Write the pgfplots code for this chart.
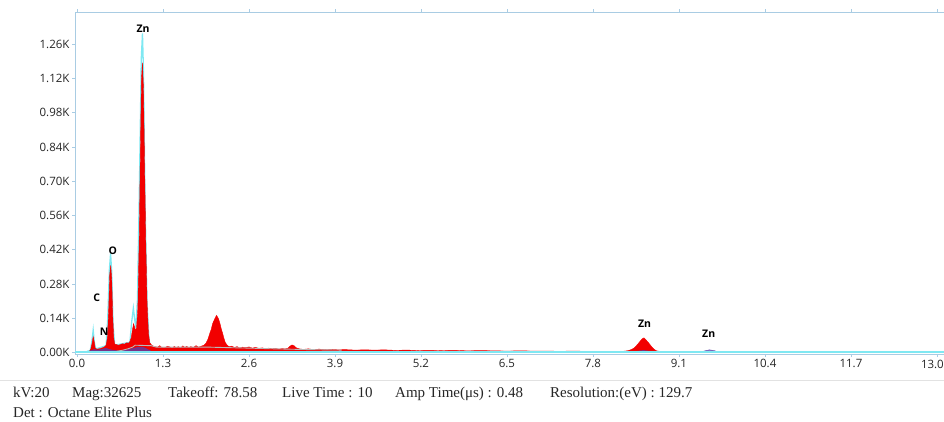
\documentclass[border=0pt]{standalone}
\usepackage{fontspec}
\setmainfont{Liberation Serif}
\newfontfamily\tickfont{Open Sans}
\newfontfamily\lblfont{Open Sans}
\usepackage{pgfplots}
\pgfplotsset{compat=1.18}
\definecolor{framec}{HTML}{A9CCE3}
\definecolor{cyanl}{HTML}{7FE8F2}
\definecolor{redf}{HTML}{F20000}
\definecolor{purp}{HTML}{5B3FA8}
\definecolor{grayl}{HTML}{B8B8B8}
\definecolor{sepc}{HTML}{E2E2E2}
\begin{document}
\begin{tikzpicture}
\path[use as bounding box] (0pt,0pt) rectangle (944pt,421pt);
\begin{axis}[
  at={(75pt,67pt)}, anchor=south west,
  width=869pt, height=341.5pt, scale only axis,
  xmin=-0.03, xmax=13.107, ymin=-6, ymax=1390,
  axis line style={framec, line width=1pt},
  tick style={framec, line width=0.8pt},
  tick align=outside, major tick length=3pt,
  xtick={0,1.3,2.6,3.9,5.2,6.5,7.8,9.1,10.4,11.7,13.0},
  xticklabels={0.0,1.3,2.6,3.9,5.2,6.5,7.8,9.1,10.4,11.7,{}},
  ytick={0,140,280,420,560,700,840,980,1120,1260},
  yticklabels={0.00K,0.14K,0.28K,0.42K,0.56K,0.70K,0.84K,0.98K,1.12K,1.26K},
  ticklabel style={font=\tickfont\fontsize{11.5}{13}\selectfont, text=black!85},
  xticklabel style={yshift=1pt},
  yticklabel style={xshift=1pt},
  clip=false,
]
% cyan outline peaks (behind red)
\addplot[cyanl, line width=1.3pt] coordinates {
(0.15,5)(0.20,8)(0.225,45)(0.245,92)(0.262,42)(0.285,15)(0.44,28)(0.465,140)
(0.49,340)(0.508,405)(0.525,330)(0.545,120)(0.57,30)(0.80,42)(0.825,120)
(0.852,182)(0.87,140)(0.89,100)(0.915,220)(0.945,700)(0.972,1200)(0.99,1305)
(1.005,1150)(1.03,600)(1.06,200)(1.09,50)(1.12,15)(1.3,8)};
% red spectrum
\addplot[draw=redf, fill=redf, line width=0.4pt] coordinates {
(0.15,0)(0.19,6)(0.21,15)(0.23,40)(0.245,65)(0.26,45)(0.275,18)(0.30,14)
(0.33,15)(0.36,17)(0.39,20)(0.42,24)(0.44,30)(0.46,60)(0.48,180)(0.495,320)
(0.51,356)(0.525,300)(0.54,150)(0.555,60)(0.57,35)(0.60,32)(0.63,30)(0.66,33)
(0.69,36)(0.72,34)(0.75,40)(0.78,38)(0.80,45)(0.82,60)(0.84,95)(0.855,118)
(0.87,105)(0.885,90)(0.90,100)(0.92,180)(0.94,450)(0.96,850)(0.975,1120)
(0.99,1185)(1.005,1080)(1.02,800)(1.04,450)(1.06,200)(1.08,80)(1.10,40)
(1.13,30)(1.17,24)(1.22,22)(1.25,28)(1.28,21)(1.33,20)(1.37,26)(1.40,23)
(1.44,18)(1.47,25)(1.50,20)(1.53,24)(1.57,19)(1.60,27)(1.63,21)(1.66,25)
(1.69,20)(1.72,24)(1.76,21)(1.80,28)(1.84,22)(1.88,26)(1.92,30)(1.95,38)
(1.98,55)(2.01,80)(2.03,95)(2.05,118)(2.07,130)(2.09,142)(2.11,152)(2.125,145)
(2.14,138)(2.16,120)(2.18,98)(2.20,80)(2.22,60)(2.24,42)(2.27,30)(2.30,24)
(2.34,26)(2.38,21)(2.42,24)(2.46,19)(2.50,22)(2.55,20)(2.60,23)(2.65,18)
(2.70,21)(2.75,17)(2.80,19)(2.85,16)(2.90,18)(2.95,15)(3.00,17)(3.05,14)
(3.10,16)(3.15,15)(3.19,18)(3.22,26)(3.25,31)(3.28,28)(3.31,20)(3.36,15)
(3.42,13)(3.50,15)(3.58,12)(3.66,14)(3.75,12)(3.85,13)(3.95,11)(4.05,12)
(4.2,10)(4.35,11)(4.5,10)(4.65,11)(4.8,9)(5.0,10)(5.15,8)(5.3,9)(5.5,8)
(5.7,9)(5.9,7)(6.1,8)(6.3,7)(6.5,6)(6.7,7)(6.9,6)(7.1,6)(7.3,5)(7.5,6)
(7.7,5)(7.9,5)(8.1,5)(8.25,5)(8.32,7)(8.38,12)(8.43,20)(8.47,32)(8.51,45)
(8.54,55)(8.57,60)(8.60,52)(8.64,40)(8.68,26)(8.72,14)(8.76,7)(8.82,4)
(9.0,3)(9.2,2)(9.5,1)(9.6,0)};
% purple background
\addplot[draw=purp, fill=purp, fill opacity=0.8, line width=0.4pt] coordinates {
(0.16,0)(0.20,7)(0.26,12)(0.32,10)(0.38,14)(0.44,17)(0.50,12)(0.56,8)
(0.62,7)(0.70,8)(0.78,12)(0.85,17)(0.92,21)(0.98,22)(1.03,18)(1.08,11)
(1.12,5)(1.16,0)};
\addplot[draw=purp, fill=purp, fill opacity=0.7, line width=0.4pt] coordinates {
(8.36,0)(8.45,5)(8.56,8)(8.68,5)(8.78,0)};
\addplot[draw=purp, fill=purp, fill opacity=0.7, line width=0.4pt] coordinates {
(9.40,0)(9.48,6)(9.56,11)(9.63,8)(9.72,0)};
% gray fit line
\addplot[grayl, line width=0.9pt] coordinates {
(0.56,3)(0.62,6)(0.70,10)(0.78,16)(0.84,22)(0.88,30)(1.12,28)(1.2,22)
(1.5,22)(2.0,22)(2.3,20)(2.6,18)(3.0,15)(3.5,12)(4.0,10)};
% cyan baseline
\addplot[cyanl, line width=2pt] coordinates {(-0.03,2)(13.107,2)};
% element labels
\node[font=\lblfont\bfseries\fontsize{10.5}{12}\selectfont] at (axis cs:1.0,1325) {Zn};
\node[font=\lblfont\bfseries\fontsize{10.5}{12}\selectfont] at (axis cs:0.54,417) {O};
\node[font=\lblfont\bfseries\fontsize{10.5}{12}\selectfont] at (axis cs:0.30,225) {C};
\node[font=\lblfont\bfseries\fontsize{10.5}{12}\selectfont] at (axis cs:0.41,86) {N};
\node[font=\lblfont\bfseries\fontsize{10.5}{12}\selectfont] at (axis cs:8.58,118) {Zn};
\node[font=\lblfont\bfseries\fontsize{10.5}{12}\selectfont] at (axis cs:9.55,78) {Zn};
\node[anchor=north east, inner sep=0pt, font=\tickfont\fontsize{11.5}{13}\selectfont, text=black!85] at ([yshift=-6pt]rel axis cs:1,0) {13.0};
\end{axis}
\draw[sepc, line width=1pt] (0pt,41pt) -- (944pt,41pt);
\begin{scope}[every node/.style={anchor=base west, inner sep=0pt, font=\fontsize{15}{17}\selectfont, text=black!85}]
\node at (13pt,24pt) {kV:20};
\node at (72pt,24pt) {Mag:32625};
\node at (168pt,24pt) {Takeoff: 78.58};
\node at (282pt,24pt) {Live Time : 10};
\node at (395pt,24pt) {Amp Time(μs) : 0.48};
\node at (550pt,24pt) {Resolution:(eV) : 129.7};
\node at (13pt,4pt) {Det : Octane Elite Plus};
\end{scope}
\end{tikzpicture}
\end{document}
